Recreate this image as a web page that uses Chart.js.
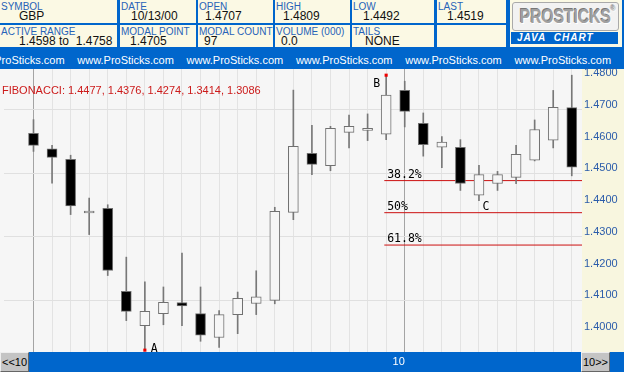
<!DOCTYPE html>
<html><head><meta charset="utf-8">
<script src="https://cdn.jsdelivr.net/npm/chart.js@4.4.1/dist/chart.umd.min.js"></script>
<style>
html,body{margin:0;padding:0;}
body{width:624px;height:372px;position:relative;overflow:hidden;background:#0066CC;font-family:"Liberation Sans",Arial,sans-serif;}
.cell{position:absolute;background:#FBF9E4;}
.lab{position:absolute;left:1px;top:1px;font-size:10px;line-height:11px;color:#2763B8;white-space:nowrap;}
.val{position:absolute;top:9px;font-size:12px;line-height:14px;color:#111;white-space:nowrap;}
.www{position:absolute;top:54px;font-size:11px;line-height:13px;color:#fff;white-space:nowrap;}
#plotbg{position:absolute;left:0;top:69px;width:582px;height:283px;background:#F6F6F6;}
#axisbg{position:absolute;left:582px;top:69px;width:42px;height:283px;background:#F8F6DF;}
.btn{position:absolute;top:352px;height:18px;background:#C4C4C4;border:1px solid;border-color:#eee #666 #666 #eee;font-size:11px;line-height:18px;color:#000;text-align:center;z-index:2;}
#fib{position:absolute;left:2px;top:84px;font-size:11px;line-height:13px;color:#CC1A1A;white-space:nowrap;z-index:2;background:transparent;}
#logo{position:absolute;left:510px;top:0;width:112px;height:47px;background:#FBF9E4;}
#logobox{position:absolute;left:2px;top:2px;width:105px;height:27px;border:1px solid #aaa;border-radius:3px;background:#f2f2f2;overflow:hidden;}
#logotxt{position:absolute;left:-6px;top:0;width:117px;font-size:20px;font-weight:bold;color:#a0a0a0;text-align:center;line-height:27px;transform:scaleX(0.78);text-shadow:1px 1px 0 #fff,-1px -1px 0 #777;}
#java{position:absolute;left:1px;top:32px;width:107px;height:12px;background:#0066CC;color:#fff;font-size:10px;font-weight:bold;font-style:italic;line-height:12px;padding-left:6px;box-sizing:border-box;letter-spacing:1px;}
canvas{position:absolute;left:0;top:0;z-index:1;}
</style></head>
<body>
<div class="cell" style="left:0;top:0;width:117px;height:23px"><div class="lab">SYMBOL</div><div class="val" style="left:19px">GBP</div></div>
<div class="cell" style="left:120px;top:0;width:76px;height:23px"><div class="lab">DATE</div><div class="val" style="left:11px">10/13/00</div></div>
<div class="cell" style="left:198px;top:0;width:75px;height:23px"><div class="lab">OPEN</div><div class="val" style="left:7px">1.4707</div></div>
<div class="cell" style="left:275px;top:0;width:75px;height:23px"><div class="lab">HIGH</div><div class="val" style="left:8px">1.4809</div></div>
<div class="cell" style="left:352px;top:0;width:82px;height:23px"><div class="lab">LOW</div><div class="val" style="left:11px">1.4492</div></div>
<div class="cell" style="left:437px;top:0;width:69px;height:23px"><div class="lab">LAST</div><div class="val" style="left:10px">1.4519</div></div>
<div class="cell" style="left:0;top:25px;width:117px;height:22px"><div class="lab">ACTIVE RANGE</div><div class="val" style="left:19px">1.4598 to&nbsp; 1.4758</div></div>
<div class="cell" style="left:120px;top:25px;width:76px;height:22px"><div class="lab">MODAL POINT</div><div class="val" style="left:10px">1.4705</div></div>
<div class="cell" style="left:198px;top:25px;width:75px;height:22px"><div class="lab">MODAL COUNT</div><div class="val" style="left:6px">97</div></div>
<div class="cell" style="left:275px;top:25px;width:75px;height:22px"><div class="lab">VOLUME (000)</div><div class="val" style="left:6px">0.0</div></div>
<div class="cell" style="left:352px;top:25px;width:82px;height:22px"><div class="lab">TAILS</div><div class="val" style="left:13px">NONE</div></div>
<div class="cell" style="left:437px;top:25px;width:69px;height:22px"></div>
<div id="logo"><div id="logobox"><div id="logotxt">PROSTICKS<sup style="font-size:8px;vertical-align:top;line-height:12px">®</sup></div></div><div id="java">JAVA&nbsp; CHART</div></div>
<div id="band"></div>
<div id="plotbg"></div>
<div id="axisbg"></div>
<div id="fib"></div>
<div class="btn" style="left:0;width:27px">&lt;&lt;10</div>
<div class="btn" style="left:581px;width:27px">10&gt;&gt;</div>
<canvas id="c" width="624" height="372"></canvas>
<script>
// ---- data ----
const candleIdx = [0,1,2,3,4,5,6,7,8,9,10,11,12,13,14,15,16,17,18,19,20,21,22,23,24,25,26,27,28,29];
const opens  = [1.4626,1.4577,1.4544,1.4375,1.4390,1.4128,1.4020,1.4058,1.4093,1.4058,1.3983,1.4055,1.4090,1.4100,1.4377,1.4563,1.4524,1.4629,1.4635,1.4623,1.4761,1.4657,1.4582,1.4582,1.4431,1.4468,1.4487,1.4541,1.4604,1.4707];
const highs  = [1.4669,1.4588,1.4557,1.4422,1.4401,1.4236,1.4158,1.4142,1.4249,1.4142,1.4068,1.4126,1.4193,1.4393,1.4762,1.4651,1.4648,1.4683,1.4687,1.4809,1.4790,1.4690,1.4616,1.4606,1.4525,1.4506,1.4588,1.4668,1.4761,1.4809];
const lows   = [1.4569,1.4469,1.4370,1.4307,1.4178,1.4036,1.3943,1.4023,1.4020,1.3971,1.3952,1.3995,1.4055,1.4089,1.4354,1.4496,1.4508,1.4580,1.4603,1.4606,1.4646,1.4554,1.4518,1.4446,1.4414,1.4446,1.4467,1.4539,1.4580,1.4492];
const closes = [1.4588,1.4550,1.4397,1.4375,1.4194,1.4065,1.4065,1.4094,1.4082,1.3990,1.4055,1.4106,1.4111,1.4380,1.4585,1.4528,1.4642,1.4648,1.4635,1.4746,1.4695,1.4590,1.4598,1.4468,1.4496,1.4496,1.4560,1.4638,1.4708,1.4519];
const fibValues = [1.4477, 1.4376, 1.4274, 1.3414, 1.3086];
const fibPct = ['38.2%', '50%', '61.8%'];
const pivotNames = ['A', 'B', 'C'];
const pivotIdx = [6, 19, 24];
const pivotKind = ['low', 'high', 'low'];
const yTicks = [1.40, 1.41, 1.42, 1.43, 1.44, 1.45, 1.46, 1.47, 1.48];
const dayMarkIdx = [0, 20];
const dayMarkLabels = ['', '10'];
const bandText = 'www.ProSticks.com';

// ---- header texts ----
document.getElementById('fib').textContent = 'FIBONACCI: ' + fibValues.map(v => v.toFixed(4)).join(', ');
const band = document.getElementById('band');
for (let k = 0; k < 6; k++) {
  const d = document.createElement('div');
  d.className = 'www'; d.style.left = (-32 + k * 109.3) + 'px'; d.textContent = bandText;
  band.appendChild(d);
}

// ---- chart ----
const wickData = candleIdx.map(i => ({x: i, y: [lows[i], highs[i]]}));
const bodyData = candleIdx.map(i => ({x: i, y: [opens[i], closes[i]]}));
const bodyColors = candleIdx.map(i => closes[i] < opens[i] ? '#000000' : '#F6F6F6');
const dotData = pivotIdx.slice(0, 2).map((i, k) => ({x: i, y: pivotKind[k] === 'low' ? lows[i] : highs[i]}));
const bIdx = pivotIdx[1];
const X_MIN = -1.589, X_MAX = 29.551;
const fibSets = fibValues.slice(0, 3).map(v => ({
  type: 'line', data: [{x: bIdx - 0.1, y: v}, {x: X_MAX, y: v}],
  borderColor: '#CC1010', borderWidth: 1, pointRadius: 0, order: 3
}));

const annot = {
  id: 'annot',
  afterDatasetsDraw(chart) {
    const {ctx, scales: {x, y}} = chart;
    ctx.save();
    ctx.font = '11.5px "DejaVu Sans Mono", monospace';
    ctx.fillStyle = '#000';
    ctx.textBaseline = 'alphabetic';
    const fx = x.getPixelForValue(bIdx);
    fibPct.forEach((p, k) => {
      ctx.textAlign = 'left';
      ctx.fillText(p, fx + 1, y.getPixelForValue(fibValues[k]) - 3);
    });
    pivotNames.forEach((n, k) => {
      const i = pivotIdx[k];
      const px = x.getPixelForValue(i);
      const py = y.getPixelForValue(pivotKind[k] === 'low' ? lows[i] : highs[i]);
      if (k === 0) { ctx.textAlign = 'left'; ctx.fillText(n, px + 6, py + 1.5); }
      else if (k === 1) { ctx.textAlign = 'right'; ctx.fillText(n, px - 6, py + 12); }
      else { ctx.textAlign = 'left'; ctx.fillText(n, px + 3.5, py + 9); }
    });
    ctx.restore();
  }
};

new Chart(document.getElementById('c'), {
  type: 'bar',
  data: {
    datasets: [
      {type: 'scatter', data: dotData, pointStyle: 'rect', pointRadius: 2.2, backgroundColor: '#EE0000', borderWidth: 0, order: 0},
      {type: 'bar', data: bodyData, backgroundColor: bodyColors, borderColor: '#707070', borderWidth: 1, borderSkipped: false, barThickness: 10, minBarLength: 2, grouped: false, order: 1},
      {type: 'bar', data: wickData, backgroundColor: '#787878', borderWidth: 0, barThickness: 1, grouped: false, order: 2},
      ...fibSets
    ]
  },
  options: {
    responsive: false, animation: false, devicePixelRatio: 1,
    layout: {padding: {top: 69, left: 0, right: 0, bottom: 0}},
    plugins: {legend: {display: false}, tooltip: {enabled: false}},
    scales: {
      x: {
        type: 'linear', min: X_MIN, max: X_MAX, offset: false,
        afterBuildTicks: s => { s.ticks = candleIdx.map(v => ({value: v})); },
        afterFit: s => { s.height = 20; },
        border: {display: false},
        grid: {offset: false, drawTicks: false, lineWidth: 1,
          color: c => dayMarkIdx.includes(c.tick && c.tick.value) ? '#A4A4A4' : '#E3E3E3'},
        ticks: {
          autoSkip: false, maxRotation: 0, padding: 3, labelOffset: -6,
          color: '#FFFFFF', font: {family: 'Liberation Sans', size: 11},
          callback: v => { const k = dayMarkIdx.indexOf(v); return k >= 0 ? dayMarkLabels[k] : ''; }
        }
      },
      y: {
        type: 'linear', position: 'right', min: 1.39372, max: 1.48285,
        afterBuildTicks: s => { s.ticks = yTicks.map(v => ({value: v})); },
        afterFit: s => { s.width = 42; },
        border: {display: false},
        grid: {drawTicks: false, lineWidth: 1,
          color: c => (Math.round(c.tick.value * 100) % 2 === 1) ? '#E0E0E0' : 'rgba(0,0,0,0)'},
        ticks: {
          padding: 2, labelOffset: -5, color: '#2B5CAA', font: {family: 'Liberation Sans', size: 11},
          callback: v => Number(v).toFixed(4)
        }
      }
    }
  },
  plugins: [annot]
});
</script>
</body></html>
